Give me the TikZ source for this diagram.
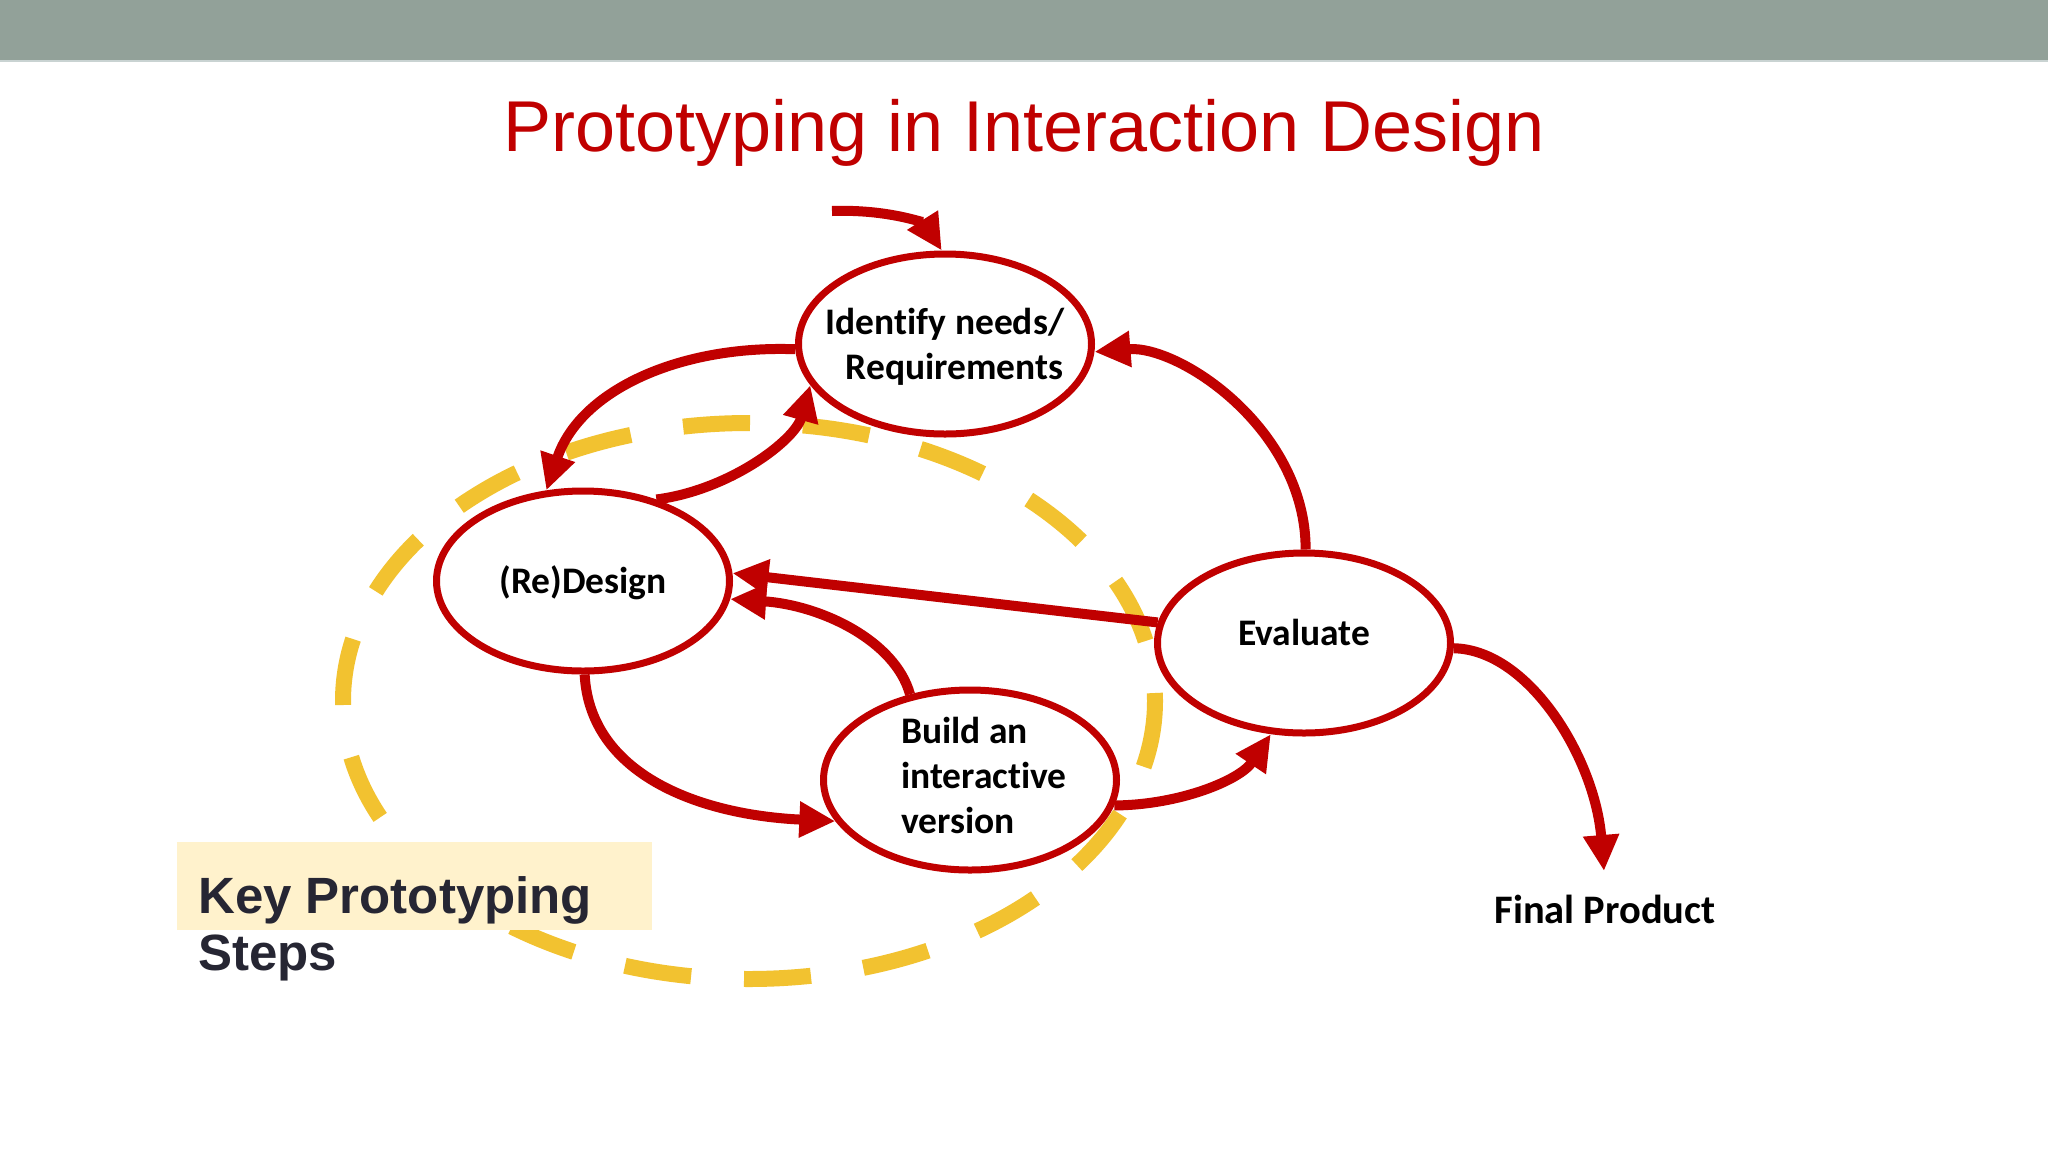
\documentclass[tikz,border=0pt]{standalone}
\usepackage{fontspec}
\setmainfont{Liberation Sans}
\newfontfamily\calib[Ligatures=NoCommon]{Carlito}
\usetikzlibrary{arrows.meta,shapes.geometric}
\definecolor{myred}{HTML}{C00000}
\definecolor{barcol}{HTML}{92A199}
\definecolor{barline}{HTML}{C9D3D2}
\definecolor{ylw}{HTML}{F2C230}
\definecolor{hl}{HTML}{FFF2CC}
\definecolor{ink}{HTML}{262633}
\begin{document}
\begin{tikzpicture}[x=1pt,y=-1pt,
  stepell/.style={ellipse, draw=myred, line width=7pt, fill=white,
    minimum width=293pt, minimum height=180pt, inner sep=0pt},
  steptext/.style={font={\calib\bfseries\fontsize{37.5}{45}\selectfont}, text=black, inner sep=0pt},
  flow/.style={draw=myred, line width=10pt, -{Triangle[length=36pt,width=34pt]}},
  dashring/.style={draw=ylw, line width=16pt, dash pattern=on 67pt off 53pt},
  keytext/.style={font={\bfseries\fontsize{51}{58}\selectfont}, text=ink, inner sep=0pt, anchor=base west}]
\useasboundingbox (0,0) rectangle (2048,1152);
\fill[white] (0,0) rectangle (2048,1152);
\fill[barcol] (0,0) rectangle (2048,60);
\fill[barline] (0,60) rectangle (2048,62);

\node[font={\fontsize{72}{80}\selectfont}, text=myred, anchor=base, inner sep=0pt] (title) at (1024,151) {Prototyping in Interaction Design};

% key steps ring
\draw[dashring] (749,701) ellipse [x radius=406, y radius=278];

% step ellipses
\node[stepell] (ident) at (945,344) {};
\node[stepell] (redesign) at (583,581) {};
\node[stepell] (build) at (970,780) {};
\node[stepell] (eval) at (1304,643) {};

\node[steptext, align=center] (identtxt) at (945,347) {Identify needs/\\\hspace*{19pt}Requirements};
\node[steptext, anchor=base] (redesigntxt) at (583,593) {(Re)Design};
\node[steptext, align=left, anchor=west] (buildtxt) at (901,775) {Build an\\interactive\\version};
\node[steptext, anchor=base] (evaltxt) at (1304,645) {Evaluate};

\node[font={\calib\bfseries\fontsize{40.5}{45}\selectfont}, text=black, anchor=base, inner sep=0pt] (final) at (1605,923) {Final Product};

\coordinate (entry) at (832,211);
\coordinate (fptip) at (1604,871);

% connectors
\draw[flow] (entry) .. controls (890,209) and (925,224) .. (ident.92);
\draw[flow] (ident.182) .. controls (680,345) and (580,390) .. (redesign.112);
\draw[flow] (redesign.48) .. controls (730,490) and (795,440) .. (ident.197);
\draw[flow] (eval.89) .. controls (1306,430) and (1180,345) .. (ident.357);
\draw[flow] (eval.172) -- (redesign.3);
\draw[flow] (build.125) .. controls (895,640) and (820,605) .. (redesign.353);
\draw[flow] (redesign.271) .. controls (590,775) and (700,815) .. (build.197);
\draw[flow] (build.350) .. controls (1180,805) and (1240,780) .. (eval.250);
\draw[flow] (eval.358) .. controls (1530,650) and (1595,760) .. (fptip);

% key prototyping steps label
\node[fill=hl, minimum width=475pt, minimum height=88pt, inner sep=0pt, anchor=north west] (keybox) at (177,842) {};
\node[keytext] (key1) at (198,913) {Key Prototyping};
\node[keytext] (key2) at (198,970) {Steps};
\end{tikzpicture}
\end{document}
